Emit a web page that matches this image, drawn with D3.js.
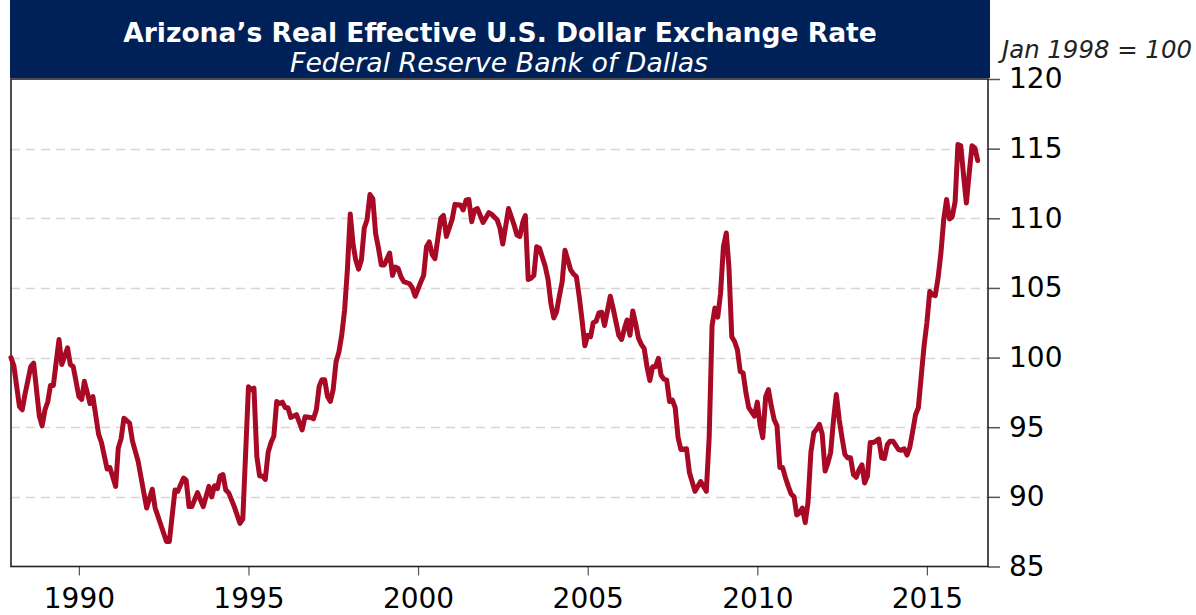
<!DOCTYPE html>
<html><head><meta charset="utf-8">
<script src="https://cdn.jsdelivr.net/npm/d3@7"></script>
<style>
html,body{margin:0;padding:0;background:#fff;}
svg{display:block;font-family:"DejaVu Sans",Verdana,sans-serif;}
</style></head>
<body><svg id="chart" width="1196" height="615"></svg>
<script>
const title = "Arizona\u2019s Real Effective U.S. Dollar Exchange Rate";
const subtitle = "Federal Reserve Bank of Dallas";
const unitLabel = "Jan 1998 = 100";
const yTicks = [85, 90, 95, 100, 105, 110, 115, 120];
const xTickYears = [1990, 1995, 2000, 2005, 2010, 2015];
const xDomain = ["1988-01-01", "2016-10-20"];
const yDomain = [85, 120];

const dates = [
"1988-01","1988-02","1988-04","1988-05","1988-06","1988-08","1988-09","1988-11","1988-12",
"1989-01","1989-02","1989-03","1989-04","1989-06","1989-07","1989-09","1989-10","1989-11",
"1990-01","1990-02","1990-03","1990-05","1990-06","1990-08","1990-09","1990-11","1990-12",
"1991-02","1991-03","1991-04","1991-05","1991-07","1991-08","1991-10","1991-12",
"1992-01","1992-03","1992-04","1992-06","1992-08","1992-09","1992-11","1992-12",
"1993-02","1993-03","1993-04","1993-05","1993-07","1993-09","1993-11","1993-12",
"1994-01","1994-02","1994-03","1994-04","1994-05","1994-06","1994-08","1994-10","1994-11",
"1995-01","1995-02","1995-03","1995-04","1995-05","1995-06","1995-07","1995-08","1995-09","1995-10","1995-11","1995-12",
"1996-01","1996-02","1996-03","1996-04","1996-05","1996-06","1996-08","1996-09","1996-11","1996-12",
"1997-01","1997-02","1997-03","1997-04","1997-05","1997-06","1997-07","1997-08","1997-09","1997-10","1997-11","1997-12",
"1998-01","1998-02","1998-03","1998-04","1998-05","1998-06","1998-07","1998-08","1998-09","1998-10","1998-11","1998-12",
"1999-01","1999-03","1999-04","1999-05","1999-06","1999-07","1999-08","1999-10","1999-11","1999-12",
"2000-02","2000-03","2000-04","2000-05","2000-06","2000-07","2000-09","2000-10","2000-11",
"2001-01","2001-02","2001-04","2001-05","2001-06","2001-07","2001-08","2001-09","2001-10","2001-11","2001-12",
"2002-02","2002-03","2002-05","2002-06","2002-07","2002-08","2002-09","2002-11","2002-12",
"2003-01","2003-02","2003-03","2003-04","2003-05","2003-06","2003-07","2003-08","2003-10","2003-11","2003-12",
"2004-01","2004-02","2004-03","2004-04","2004-05","2004-06","2004-07","2004-08","2004-09","2004-10","2004-11","2004-12",
"2005-01","2005-02","2005-03","2005-04","2005-05","2005-06","2005-07","2005-09","2005-10","2005-12",
"2006-01","2006-02","2006-03","2006-04","2006-05","2006-06","2006-07","2006-08","2006-09","2006-10","2006-11","2006-12",
"2007-01","2007-02","2007-03","2007-04","2007-05","2007-06","2007-07","2007-08","2007-09","2007-10","2007-12",
"2008-01","2008-03","2008-05","2008-07","2008-08","2008-09","2008-10","2008-11","2008-12",
"2009-01","2009-02","2009-03","2009-04","2009-05","2009-06","2009-07","2009-08","2009-09","2009-10","2009-12",
"2010-01","2010-02","2010-03","2010-04","2010-05","2010-06","2010-07","2010-08","2010-09","2010-10","2010-11","2010-12",
"2011-01","2011-02","2011-03","2011-04","2011-05","2011-06","2011-07","2011-08","2011-09","2011-10","2011-11","2011-12",
"2012-01","2012-02","2012-03","2012-04","2012-05","2012-06","2012-07","2012-08","2012-09","2012-10","2012-11","2012-12",
"2013-01","2013-02","2013-03","2013-04","2013-05","2013-06","2013-07","2013-08","2013-09","2013-10","2013-11","2013-12",
"2014-01","2014-03","2014-04","2014-05","2014-06","2014-07","2014-08","2014-09","2014-10","2014-11","2014-12",
"2015-01","2015-02","2015-03","2015-04","2015-05","2015-06","2015-07","2015-08","2015-09","2015-10","2015-11","2015-12",
"2016-01","2016-02","2016-03","2016-04","2016-05","2016-06","2016-07"
];

const values = [
100.0,99.4,96.5,96.25,97.4,99.35,99.6,95.8,95.1,
96.25,96.85,98.0,98.0,101.3,99.5,100.7,99.5,99.35,
97.2,97.0,98.3,96.7,97.2,94.5,93.9,92.0,92.1,
90.75,93.5,94.2,95.65,95.3,94.0,92.55,90.3,
89.2,90.55,89.2,88.0,86.8,86.8,90.5,90.4,
91.35,91.2,89.3,89.3,90.3,89.3,90.75,90.0,
90.8,90.6,91.5,91.6,90.5,90.3,89.3,88.1,88.4,
97.9,97.7,97.8,92.9,91.5,91.5,91.25,93.2,93.9,94.35,96.85,96.7,
96.8,96.4,96.4,95.7,95.8,95.9,94.8,95.75,95.7,95.6,
96.25,97.95,98.4,98.4,97.2,96.85,97.7,99.7,100.4,101.6,103.4,106.3,
110.3,108.1,107.0,106.35,107.0,109.3,109.9,111.7,111.4,108.9,107.85,106.65,
106.65,107.5,105.9,106.5,106.4,105.8,105.45,105.3,105.0,104.4,
105.45,105.9,107.95,108.3,107.4,107.1,110.0,110.2,108.7,
109.9,111.0,110.95,110.6,111.3,111.35,109.75,110.6,110.7,110.2,109.7,
110.4,110.3,109.9,109.3,108.15,109.4,110.7,109.5,108.8,
108.7,109.7,110.2,105.6,105.7,105.9,107.95,107.85,106.55,105.6,103.9,
102.85,103.3,104.4,105.45,107.7,107.0,106.3,106.0,105.8,104.4,102.7,100.85,
101.6,101.5,102.5,102.6,103.2,103.25,102.3,104.4,103.55,101.6,
101.3,102.1,102.7,101.6,103.35,102.45,101.4,100.95,100.65,99.35,98.35,99.35,
99.35,99.95,98.75,98.45,98.4,96.85,96.95,96.4,94.25,93.4,93.45,
91.75,90.4,91.1,90.4,94.3,102.3,103.55,102.9,104.6,
107.95,108.95,106.55,101.5,101.15,100.55,99.0,98.9,97.45,96.4,95.8,
96.8,95.1,94.25,97.2,97.7,96.5,95.55,95.1,92.1,92.1,91.35,90.75,
90.2,90.0,88.7,88.85,89.2,88.15,89.6,93.2,94.6,94.85,95.2,94.5,
91.85,92.45,93.2,95.55,97.35,95.55,94.25,93.05,92.8,92.8,91.6,91.4,
91.95,92.3,91.0,91.5,93.9,93.9,94.0,94.15,92.8,92.75,93.75,94.0,
94.0,93.4,93.35,93.45,93.0,93.55,94.7,95.9,96.4,98.65,100.8,
102.5,104.75,104.5,104.45,105.7,107.5,109.9,111.35,109.95,110.1,111.2,115.3,
115.2,113.0,111.1,113.25,115.2,115.05,114.15
];

const parseMonth = d3.timeParse("%Y-%m");
const parseDay = d3.timeParse("%Y-%m-%d");
const data = dates.map((d, i) => ({date: parseMonth(d), value: values[i]}));

const svg = d3.select("#chart");
const plot = {left: 11, right: 988, top: 79, bottom: 566.5};

const x = d3.scaleTime().domain(xDomain.map(parseDay)).range([plot.left, plot.right]);
const y = d3.scaleLinear().domain(yDomain).range([plot.bottom, plot.top]);

// banner
svg.append("rect").attr("x", 10).attr("y", 0).attr("width", 980).attr("height", 78).attr("fill", "#002157");

function fitText(sel, target) {
  const w = sel.node().getComputedTextLength();
  const fs = parseFloat(sel.attr("font-size"));
  sel.attr("font-size", (fs * target / w).toFixed(2));
}
const t1 = svg.append("text").attr("x", 500).attr("y", 42).attr("text-anchor", "middle")
  .attr("fill", "#fff").attr("font-weight", "bold").attr("font-size", 24).text(title);
fitText(t1, 754);
const t2 = svg.append("text").attr("x", 499).attr("y", 72).attr("text-anchor", "middle")
  .attr("fill", "#fff").attr("font-style", "italic").attr("font-size", 22).text(subtitle);
fitText(t2, 418);
const t3 = svg.append("text").attr("x", 1002).attr("y", 58)
  .attr("fill", "#222").attr("font-style", "italic").attr("font-size", 20).text(unitLabel);
fitText(t3, 190);

// gridlines
svg.append("g").selectAll("line").data(yTicks.filter(v => v > yDomain[0] && v < yDomain[1]))
  .join("line")
  .attr("x1", plot.left).attr("x2", plot.right)
  .attr("y1", d => Math.round(y(d)) + 0.5).attr("y2", d => Math.round(y(d)) + 0.5)
  .attr("stroke", "#d6d6d6").attr("stroke-width", 1.5).attr("stroke-dasharray", "9,6");

// right y axis
const yAxis = d3.axisRight(y).tickValues(yTicks).tickSize(12).tickPadding(9).tickFormat(d3.format("d"));
const gy = svg.append("g").attr("transform", `translate(${plot.right},0)`).call(yAxis);
gy.select(".domain").remove();
gy.selectAll(".tick line").attr("stroke", "#555").attr("stroke-width", 1.5);
gy.selectAll(".tick text").attr("font-size", 28).attr("fill", "#000")
  .attr("font-family", "DejaVu Sans, Verdana, sans-serif");

// bottom x axis
const xAxis = d3.axisBottom(x).tickValues(xTickYears.map(yr => new Date(yr, 0, 1)))
  .tickSize(9).tickPadding(13).tickFormat(d3.timeFormat("%Y"));
const gx = svg.append("g").attr("transform", `translate(0,${plot.bottom})`).call(xAxis);
gx.select(".domain").remove();
gx.selectAll(".tick line").attr("stroke", "#555").attr("stroke-width", 1.2);
gx.selectAll(".tick text").attr("font-size", 28).attr("fill", "#000")
  .attr("font-family", "DejaVu Sans, Verdana, sans-serif");

// frame
svg.append("rect").attr("x", plot.left).attr("y", plot.top)
  .attr("width", plot.right - plot.left).attr("height", plot.bottom - plot.top)
  .attr("fill", "none").attr("stroke", "#222").attr("stroke-width", 1.6);

// line
const line = d3.line().x(d => x(d.date)).y(d => y(d.value)).curve(d3.curveLinear);
svg.append("path").datum(data).attr("d", line)
  .attr("fill", "none").attr("stroke", "#a80a26").attr("stroke-width", 5)
  .attr("stroke-linejoin", "round").attr("stroke-linecap", "round");
</script></body></html>
